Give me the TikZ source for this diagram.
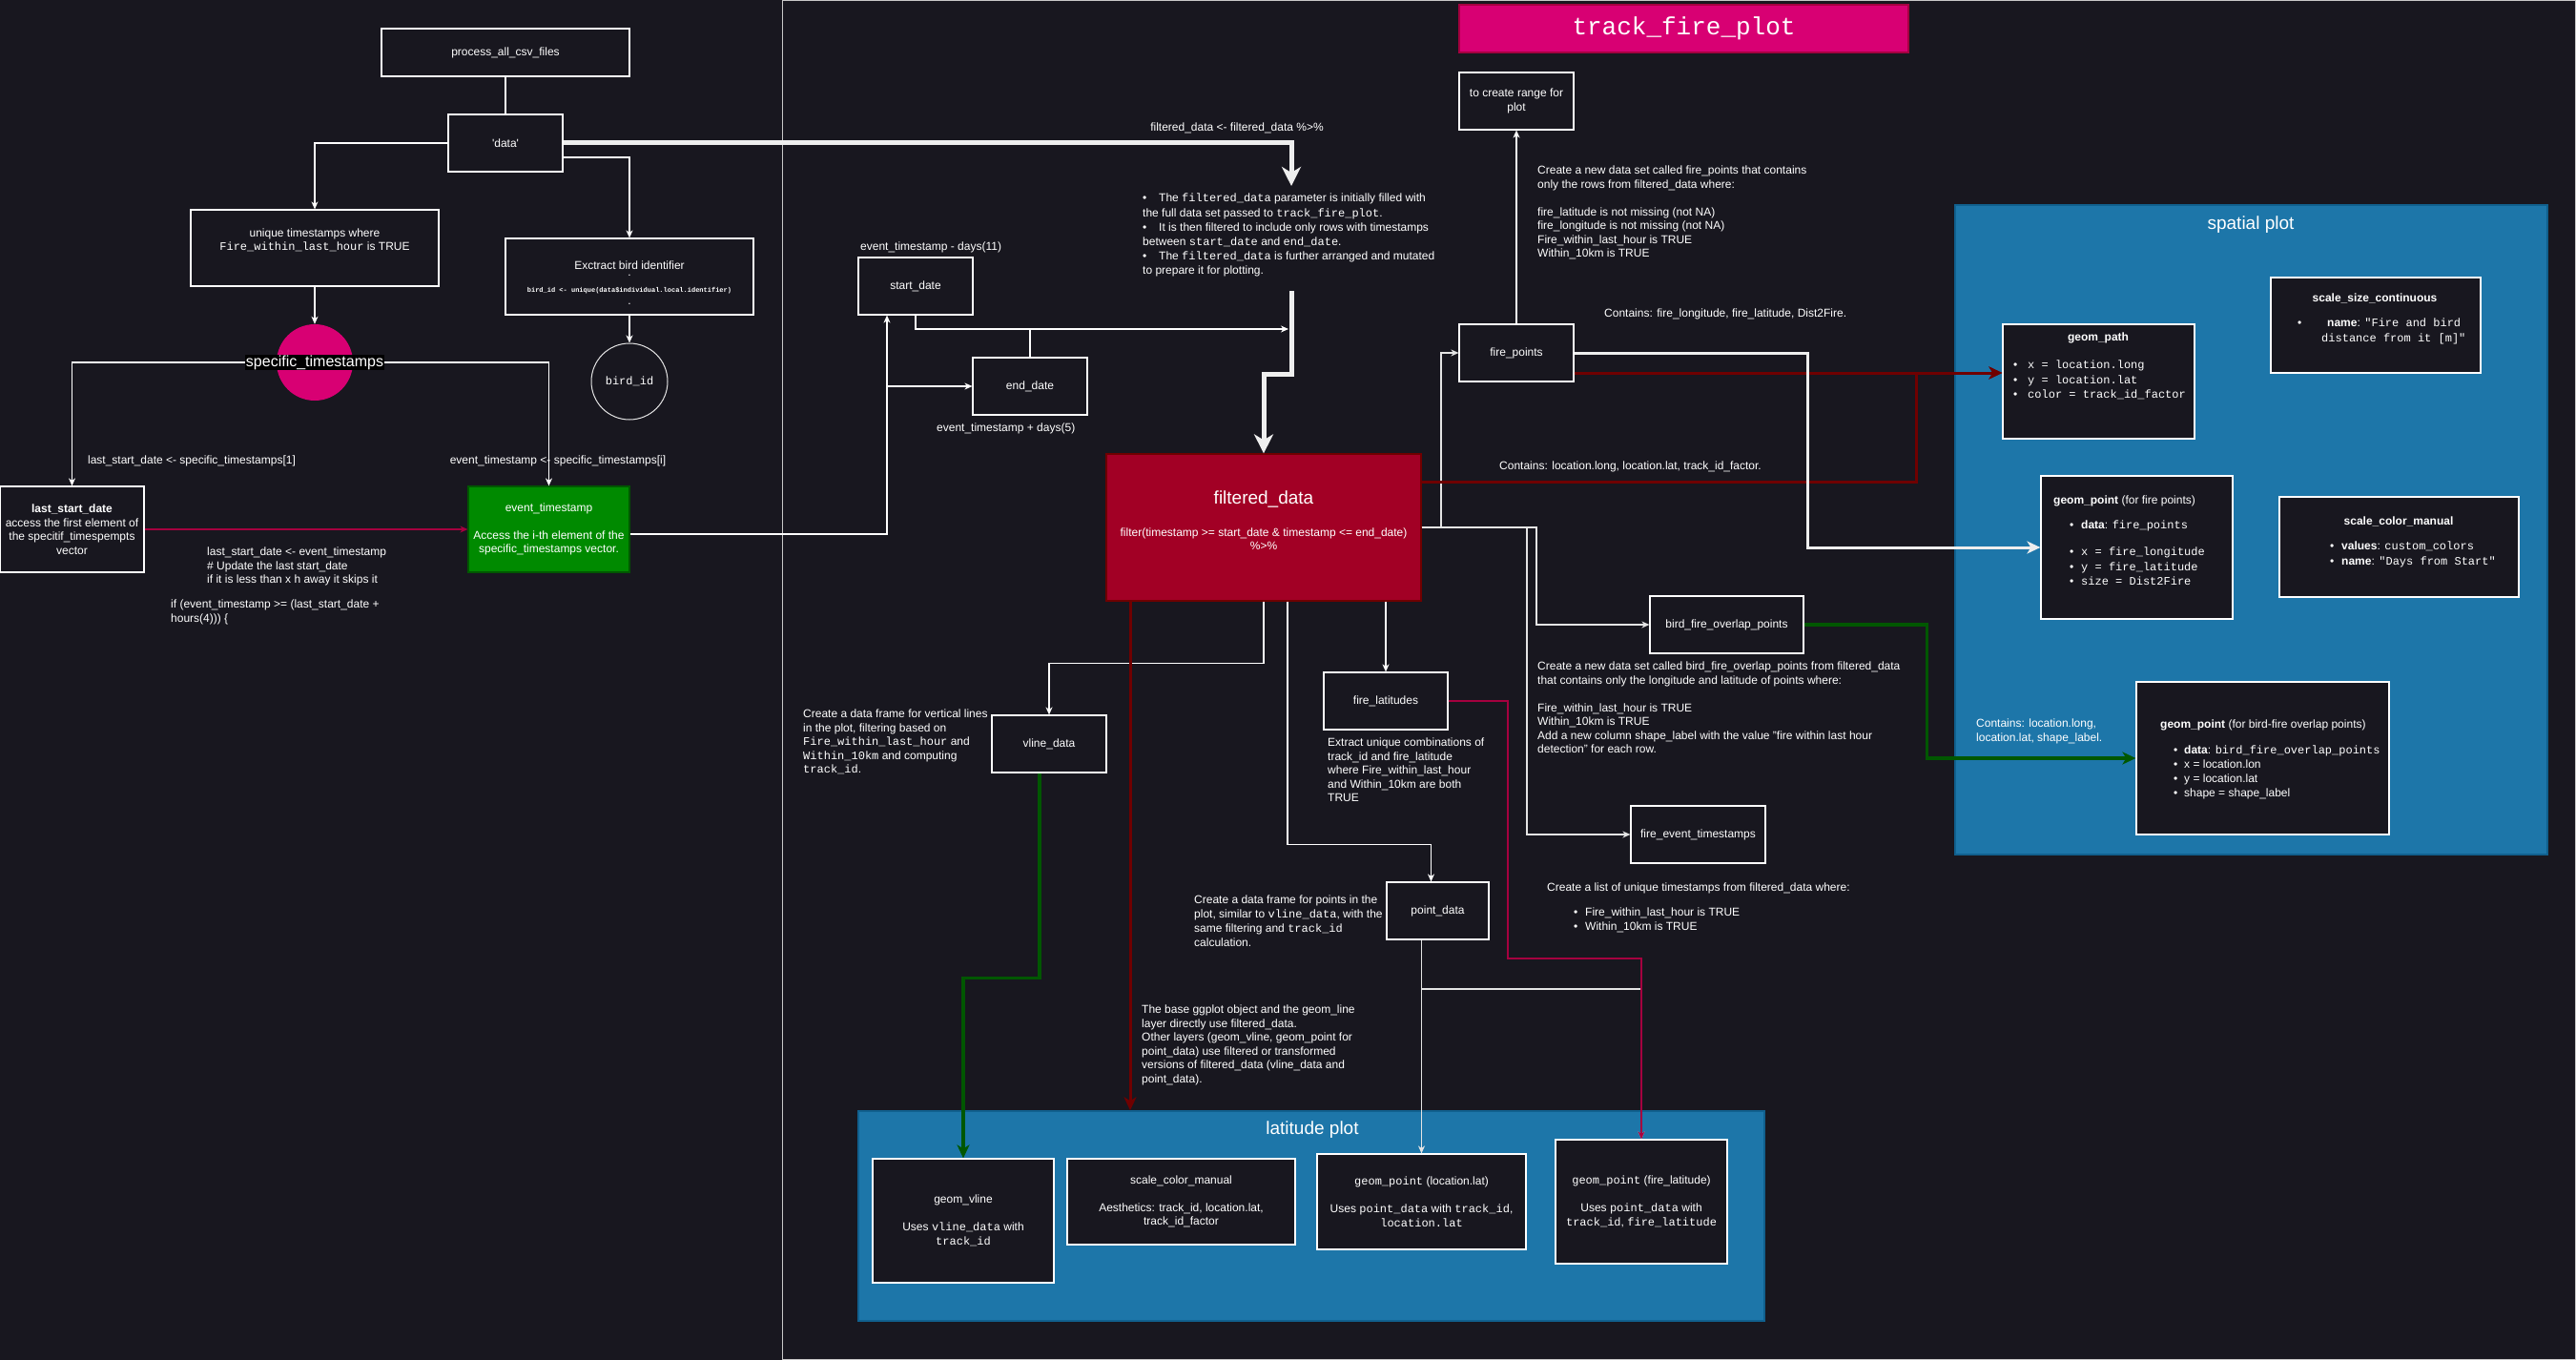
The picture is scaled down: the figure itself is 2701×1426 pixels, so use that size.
\documentclass[tikz,border=0pt]{standalone}
\usepackage{fontspec}
\setmainfont{Liberation Sans}
\setmonofont{Liberation Mono}
\usetikzlibrary{arrows.meta,shapes.geometric}
\definecolor{bg}{HTML}{18171F}
\definecolor{framec}{HTML}{C8C8C8}
\definecolor{pinkc}{HTML}{D80073}
\definecolor{pinkd}{HTML}{A50040}
\definecolor{greenbox}{HTML}{008A00}
\definecolor{greenln}{HTML}{005700}
\definecolor{crim}{HTML}{A20025}
\definecolor{darkred}{HTML}{6F0000}
\definecolor{crimln}{HTML}{A5003F}
\definecolor{bluec}{HTML}{1D76A9}
\definecolor{blued}{HTML}{10608E}
\definecolor{lgray}{HTML}{E4E4E4}
\definecolor{thickw}{HTML}{EEEEEE}
\newcommand\fsz[2]{\fontsize{#1}{#2}\selectfont}
\newcommand\mono[1]{\texttt{#1}}
\newcommand\bul[1]{\makebox[#1][l]{\textbullet}}
\tikzset{
  nbox/.style={draw=white, line width=1.2pt, fill=bg, inner sep=0pt, text=white,
    align=center, font=\fsz{12}{14.5}},
  txt/.style={text=white, inner sep=0pt, align=left, font=\fsz{12}{14.5}},
  ctxt/.style={txt, align=center},
  wire/.style={draw=white, line width=1.2pt},
  arrs/.style={-{Stealth[length=8pt,width=7pt,inset=2.5pt]}},
  arrm/.style={-{Stealth[length=14pt,width=13pt,inset=4pt]}},
  arrl/.style={-{Stealth[length=20pt,width=20pt,inset=6pt]}},
  cont/.style={draw=blued, line width=1.5pt, fill=bluec, inner sep=0pt},
}
\begin{document}
\begin{tikzpicture}[x=1pt, y=-1pt]
\fill[bg] (0,0) rectangle (2701,1426);
\useasboundingbox (0,0) rectangle (2701,1426);

% outline of the track_fire_plot function
\draw[framec, line width=1.5pt] (820.5,0.75) rectangle (2700.25,1425.25);

% ---------- data preparation (left) ----------
\node[nbox, minimum width=260pt, minimum height=50pt] (proc) at (530,55) {process\_all\_csv\_files};
\node[nbox, minimum width=120pt, minimum height=60pt] (data) at (530,150) {\textquotesingle data\textquotesingle};
\node[nbox, minimum width=260pt, minimum height=80pt] (uniq) at (330,260) {};
\node[ctxt] (uniqt) at (330,252) {unique timestamps where\\\mono{Fire\_within\_last\_hour} is TRUE};
\node[nbox, minimum width=260pt, minimum height=80pt] (extr) at (660,290) {};
\node[ctxt] (extrt) at (660,278) {Exctract bird identifier};
\node[ctxt] (extrd1) at (660,289) {.};
\node[ctxt, font=\fsz{7}{8}\ttfamily\bfseries] (extrc) at (660,305) {bird\_id <- unique(data\$individual.local.identifier)};
\node[ctxt] (extrd2) at (660,319) {.};
\node[draw=lgray, line width=1pt, fill=bg, circle, minimum size=80pt, inner sep=0pt, text=white, font=\fsz{12}{14}\ttfamily] (bird) at (660,400) {bird\_id};
\node[circle, fill=pinkc, minimum size=80pt, inner sep=0pt] (spec) at (330,380) {};

\node[nbox, minimum width=151pt, minimum height=90pt] (lsd) at (75.5,555)
  {\textbf{last\_start\_date}\\access the first element of\\the specitif\_timespempts\\vector};
\node[nbox, fill=greenbox, draw=greenln, minimum width=169pt, minimum height=90pt] (evt) at (575.5,555)
  {event\_timestamp\\[14.5pt]Access the i-th element of the\\specific\_timestamps vector.};

\node[ctxt] (lbl1) at (201,483) {last\_start\_date <- specific\_timestamps[1]};
\node[ctxt] (lbl2) at (585,483) {event\_timestamp <- specific\_timestamps[i]};
\node[txt, anchor=north west] (upd) at (217,574) {last\_start\_date <- event\_timestamp\\\# Update the last start\_date\\if it is less than x h away it skips it};
\node[txt, anchor=north west] (cond) at (179,629) {if (event\_timestamp >= (last\_start\_date +\\hours(4))) \{};

% ---------- date window ----------
\node[nbox, minimum width=120pt, minimum height=60pt] (sd) at (960,300) {start\_date};
\node[nbox, minimum width=120pt, minimum height=60pt] (ed) at (1080,405) {end\_date};
\node[txt, anchor=west] (sdl) at (902,259) {event\_timestamp - days(11)};
\node[txt, anchor=west] (edl) at (982,449) {event\_timestamp + days(5)};

% ---------- track_fire_plot ----------
\node[fill=pinkc, draw=pinkd, line width=1.2pt, minimum width=471pt, minimum height=50pt, inner sep=0pt,
  text=white, font=\fsz{26}{30}\ttfamily] (hdr) at (1765.5,30) {track\_fire\_plot};
\node[ctxt] (fdl) at (1297,134) {filtered\_data <- filtered\_data \%>\%};
\node[txt, anchor=north west, font=\fsz{12}{15.2}] (notes) at (1198,203)
  {\bul{17pt}The \mono{filtered\_data} parameter is initially filled with\\
   the full data set passed to \mono{track\_fire\_plot}.\\
   \bul{17pt}It is then filtered to include only rows with timestamps\\
   between \mono{start\_date} and \mono{end\_date}.\\
   \bul{17pt}The \mono{filtered\_data} is further arranged and mutated\\
   to prepare it for plotting.};
\coordinate (nin) at (1354,195);
\coordinate (nout) at (1354,305);
\coordinate (jS) at (1351,345);
\coordinate (jE) at (930,405);

\node[nbox, fill=crim, draw=darkred, minimum width=330pt, minimum height=154pt] (filt) at (1325,553) {};
\node[ctxt, font=\fsz{19}{22}] (filtt) at (1325,523) {filtered\_data};
\node[ctxt] (filtc) at (1325,565) {filter(timestamp >= start\_date \& timestamp <= end\_date)\\\%>\%};

\node[nbox, minimum width=120pt, minimum height=60pt] (rng) at (1590,106) {to create range for\\plot};
\node[nbox, minimum width=120pt, minimum height=60pt] (fp) at (1590,370) {fire\_points};
\node[txt, anchor=north west] (fpd) at (1612,174)
  {Create a new data set called fire\_points that contains\\only the rows from filtered\_data where:\\[14.5pt]
   fire\_latitude is not missing (not NA)\\fire\_longitude is not missing (not NA)\\
   Fire\_within\_last\_hour is TRUE\\Within\_10km is TRUE};
\node[txt, anchor=west] (fpc) at (1682,329) {Contains: fire\_longitude, fire\_latitude, Dist2Fire.};
\node[txt, anchor=west] (fdc) at (1572,489) {Contains: location.long, location.lat, track\_id\_factor.};

\node[nbox, minimum width=161pt, minimum height=60pt] (bfo) at (1810.5,655) {bird\_fire\_overlap\_points};
\node[txt, anchor=north west] (bfod) at (1612,694)
  {Create a new data set called bird\_fire\_overlap\_points from filtered\_data\\
   that contains only the longitude and latitude of points where:\\[14.5pt]
   Fire\_within\_last\_hour is TRUE\\Within\_10km is TRUE\\
   Add a new column shape\_label with the value "fire within last hour\\detection" for each row.};
\node[nbox, minimum width=141pt, minimum height=60pt] (fet) at (1780.5,875) {fire\_event\_timestamps};
\node[txt, anchor=north west] (fetd) at (1622,926) {Create a list of unique timestamps from filtered\_data where:};
\node[txt, anchor=north west, font=\fsz{12}{15}] (fetb) at (1650,952) {\bul{12pt}Fire\_within\_last\_hour is TRUE\\\bul{12pt}Within\_10km is TRUE};

\node[nbox, minimum width=120pt, minimum height=60pt] (vl) at (1100,780) {vline\_data};
\node[txt, anchor=north west] (vld) at (842,744)
  {Create a data frame for vertical lines\\in the plot, filtering based on\\
   \mono{Fire\_within\_last\_hour} and\\\mono{Within\_10km} and computing\\\mono{track\_id}.};
\node[nbox, minimum width=130pt, minimum height=60pt] (flat) at (1453,735) {fire\_latitudes};
\node[txt, anchor=north west] (flatd) at (1392,774)
  {Extract unique combinations of\\track\_id and fire\_latitude\\where Fire\_within\_last\_hour\\and Within\_10km are both\\TRUE};
\node[nbox, minimum width=107pt, minimum height=60pt] (pd) at (1507.5,955) {point\_data};
\node[txt, anchor=north west, font=\fsz{12}{15}] (pdd) at (1252,939)
  {Create a data frame for points in the\\plot, similar to \mono{vline\_data}, with the\\
   same filtering and \mono{track\_id}\\calculation.};
\node[txt, anchor=north west] (ggd) at (1197,1054)
  {The base ggplot object and the geom\_line\\layer directly use filtered\_data.\\
   Other layers (geom\_vline, geom\_point for\\point\_data) use filtered or transformed\\
   versions of filtered\_data (vline\_data and\\point\_data).};

% ---------- spatial plot ----------
\node[cont, minimum width=621pt, minimum height=681pt] (spc) at (2360.5,555.5) {};
\node[ctxt, font=\fsz{19}{22}] (spct) at (2360,236) {spatial plot};
\node[nbox, minimum width=201pt, minimum height=120pt] (gpath) at (2200.5,400) {};
\node[ctxt, font=\fsz{12}{14.5}\bfseries] (gpatht) at (2200,354) {geom\_path};
\node[txt, anchor=north west, font=\fsz{12}{15.5}] (gpathb) at (2111,378)
  {\bul{15pt}\mono{x = location.long}\\\bul{15pt}\mono{y = location.lat}\\\bul{15pt}\mono{color = track\_id\_factor}};
\node[nbox, minimum width=220pt, minimum height=100pt] (ssc) at (2491,341) {};
\node[ctxt, font=\fsz{12}{14.5}\bfseries] (ssct) at (2490,313) {scale\_size\_continuous};
\node[txt, anchor=north west, font=\fsz{12}{16}] (sscb) at (2409,334)
  {\bul{31pt}\textbf{name}: \mono{"Fire and bird}\\\hspace*{25pt}\mono{distance from it [m]"}};
\node[nbox, minimum width=201pt, minimum height=150pt] (gpfire) at (2240.5,574) {};
\node[txt, anchor=north west] (gpfiret) at (2153,520) {\textbf{geom\_point} (for fire points)};
\node[txt, anchor=north west] (gpfireb1) at (2170,546) {\bul{12pt}\textbf{data}: \mono{fire\_points}};
\node[txt, anchor=north west, font=\fsz{12}{15.5}] (gpfireb2) at (2170,574)
  {\bul{12pt}\mono{x = fire\_longitude}\\\bul{12pt}\mono{y = fire\_latitude}\\\bul{12pt}\mono{size = Dist2Fire}};
\node[nbox, minimum width=251pt, minimum height=105pt] (scm1) at (2515.5,573.5) {};
\node[ctxt, font=\fsz{12}{14.5}\bfseries] (scm1t) at (2515,547) {scale\_color\_manual};
\node[txt, anchor=north west, font=\fsz{12}{16}] (scm1b) at (2443,568)
  {\bul{12pt}\textbf{values}: \mono{custom\_colors}\\\bul{12pt}\textbf{name}: \mono{"Days from Start"}};
\node[nbox, minimum width=265pt, minimum height=160pt] (gpover) at (2372.5,795) {};
\node[txt, anchor=north west] (gpovert) at (2265,755) {\textbf{geom\_point} (for bird-fire overlap points)};
\node[txt, anchor=north west, font=\fsz{12}{14.7}] (gpoverb) at (2279,782)
  {\bul{11pt}\textbf{data}: \mono{bird\_fire\_overlap\_points}\\\bul{11pt}x = location.lon\\
   \bul{11pt}y = location.lat\\\bul{11pt}shape = shape\_label};
\node[txt, anchor=north west] (bfoc) at (2072,754) {Contains: location.long,\\location.lat, shape\_label.};

% ---------- latitude plot ----------
\node[cont, minimum width=950pt, minimum height=220pt] (latc) at (1375,1275) {};
\node[ctxt, font=\fsz{19}{22}] (latt) at (1376,1185) {latitude plot};
\node[nbox, minimum width=190pt, minimum height=130pt] (gvl) at (1010,1280)
  {geom\_vline\\[14.5pt]Uses \mono{vline\_data} with\\\mono{track\_id}};
\node[nbox, minimum width=239pt, minimum height=90pt] (scm2) at (1238.5,1260)
  {scale\_color\_manual\\[14.5pt]Aesthetics: track\_id, location.lat,\\track\_id\_factor};
\node[nbox, minimum width=219pt, minimum height=100pt] (gploc) at (1490.5,1260)
  {\mono{geom\_point} (location.lat)\\[14.5pt]Uses \mono{point\_data} with \mono{track\_id},\\\mono{location.lat}};
\node[nbox, minimum width=180pt, minimum height=130pt] (gpf) at (1721,1260)
  {\mono{geom\_point} (fire\_latitude)\\[14.5pt]Uses \mono{point\_data} with\\\mono{track\_id}, \mono{fire\_latitude}};
\coordinate (flatk) at (1581,1005);

% ---------- connectors ----------
\draw[wire] (proc.south) -- (data.north);
\draw[wire, arrs] (data.west) -| (uniq.north);
\draw[wire, arrs] ([yshift=-15pt]data.east) -| (extr.north);
\draw[wire, arrs] (extr.south) -- (bird.north);
\draw[wire, arrs] (uniq.south) -- (spec.north);
\draw[wire, arrs] (spec.west) -| (lsd.north);
\draw[wire, arrs] (spec.east) -| (evt.north);
\draw[crimln, line width=1.5pt, arrs] (lsd.east) -- (evt.west);
\draw[wire, arrs] ([yshift=-5pt]evt.east) -| ([xshift=-30pt]sd.south);
\draw[wire, arrs] (jE) -- (ed.west);
\draw[wire, arrs] (sd.south) |- (jS);
\draw[wire] (ed.north) -- (ed.north |- jS);
\draw[thickw, line width=5pt, arrl] (data.east) -| (nin);
\draw[thickw, line width=5pt, arrl] (nout) -- ++(0,87) -| (filt.north);

\draw[wire, arrs] (fp.north) -- (rng.south);
\draw[lgray, line width=1.8pt, arrs] (filt.east) -- ++(20,0) |- (fp.west);
\draw[lgray, line width=1.8pt, arrs] (filt.east) -- ++(120,0) |- (bfo.west);
\draw[lgray, line width=1.8pt, arrs] (filt.east) -- ++(110,0) |- (fet.west);
\draw[darkred, line width=3pt, arrm] ([yshift=48pt]filt.east) -| ([xshift=-90pt,yshift=9pt]gpath.west) -- ([yshift=9pt]gpath.west);
\draw[darkred, line width=3pt, arrm] ([yshift=-21pt]fp.east) -- ([yshift=9pt]gpath.west);
\draw[thickw, line width=3pt, arrm] (fp.east) -- ++(245,0) |- (gpfire.west);
\draw[greenln, line width=3.5pt, arrm] (bfo.east) -- ++(129,0) |- (gpover.west);

\draw[wire, arrs] (filt.south) -- ++(0,65) -| (vl.north);
\draw[wire, arrs] (flat.north |- filt.south) -- (flat.north);
\draw[wire, arrs] ([xshift=25pt]filt.south) -- ++(0,255) -| ([xshift=-7pt]pd.north);
\draw[darkred, line width=3pt, arrm] ([xshift=-140pt]filt.south) -- ([xshift=-140pt]filt.south |- latc.north);
\draw[greenln, line width=3.5pt, arrm] ([xshift=-10pt]vl.south) -- ++(0,215) -| (gvl.north);
\draw[lgray, line width=1.8pt, arrs] (gploc.north |- pd.south) -- (gploc.north);
\draw[lgray, line width=1.8pt, arrs] (gploc.north |- pd.south) -- ++(0,51) -| (gpf.north);
\draw[crimln, line width=2.2pt, arrs] (flat.east) -| (flatk) -| (gpf.north);

% label of the specific_timestamps circle, on top of its connectors
\node[fill=black, text=white, inner sep=1pt, font=\fsz{16}{18}] (specl) at (330,380) {specific\_timestamps};
\end{tikzpicture}
\end{document}
